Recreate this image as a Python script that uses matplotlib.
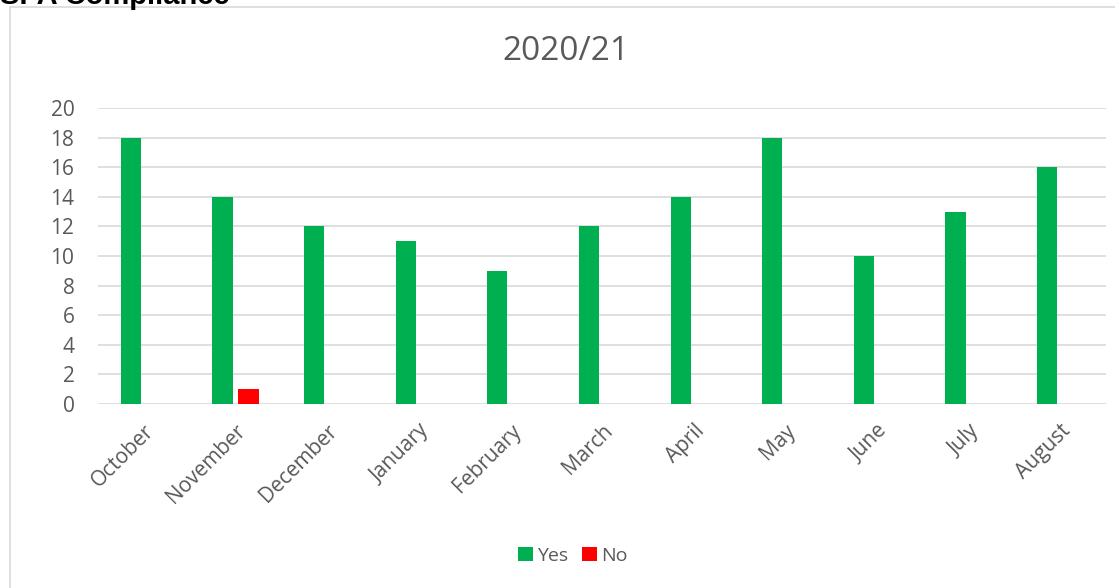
import numpy as np
import matplotlib
matplotlib.use("Agg")
import matplotlib.pyplot as plt
from matplotlib.patches import Rectangle

plt.rcParams['font.family'] = ['Open Sans', 'DejaVu Sans']

# data
months = ['October', 'November', 'December', 'January', 'February', 'March',
          'April', 'May', 'June', 'July', 'August']
yes_counts = [18, 14, 12, 11, 9, 12, 14, 18, 10, 13, 16]
no_counts = [0, 1, 0, 0, 0, 0, 0, 0, 0, 0, 0]
y_ticks = [0, 2, 4, 6, 8, 10, 12, 14, 16, 18, 20]

green = '#00B050'
red = '#FF0000'
text_grey = '#595959'

fig = plt.figure(figsize=(11.15, 5.88), dpi=100)

# chart frame (runs past the right and bottom edges like the original)
fig.patches.append(Rectangle((10 / 1115, -0.05), 1.2, 1 - 7 / 588 + 0.05,
                             transform=fig.transFigure, fill=False,
                             edgecolor='#D9D9D9', linewidth=1.2))

# section heading, cut off at the top as in the source
fig.text(0.0, 1 + 4 / 588, 'SPA Compliance', fontsize=21, fontweight='bold',
         color='black', ha='left', va='center',
         family=['Liberation Sans', 'DejaVu Sans'])

ax = fig.add_axes([98 / 1115, 1 - 404 / 588, (1106 - 98) / 1115, (404 - 108) / 588])

x = np.arange(len(months))
w = 0.22
off = 0.142
ax.bar(x - off, yes_counts, w, color=green, label='Yes', zorder=3)
ax.bar(x + off, no_counts, w, color=red, label='No', zorder=3)

ax.set_xlim(-0.5, len(months) - 0.5)
ax.set_ylim(0, 20)
ax.set_yticks(y_ticks)
ax.set_yticklabels([str(t) for t in y_ticks], fontsize=15, color=text_grey)
ax.set_xticks(x)
ax.set_xticklabels(months, rotation=45, ha='right', va='top',
                   rotation_mode='anchor', fontsize=15, color=text_grey)
ax.tick_params(axis='both', length=0)
ax.tick_params(axis='y', pad=17)
ax.tick_params(axis='x', pad=12)

ax.grid(axis='y', color='#D9D9D9', linewidth=1.2, zorder=0)
for s in ax.spines.values():
    s.set_visible(False)

fig.text(566 / 1115, 1 - 52 / 588, '2020/21', fontsize=24, color=text_grey,
         ha='center', va='center')

fig.legend(loc='center', bbox_to_anchor=(573 / 1115, 1 - 556 / 588), ncol=2,
           frameon=False, fontsize=14, handlelength=0.75, handleheight=0.75,
           handletextpad=0.25, columnspacing=0.7, labelcolor=text_grey)

fig.savefig('out.png', dpi=100)
